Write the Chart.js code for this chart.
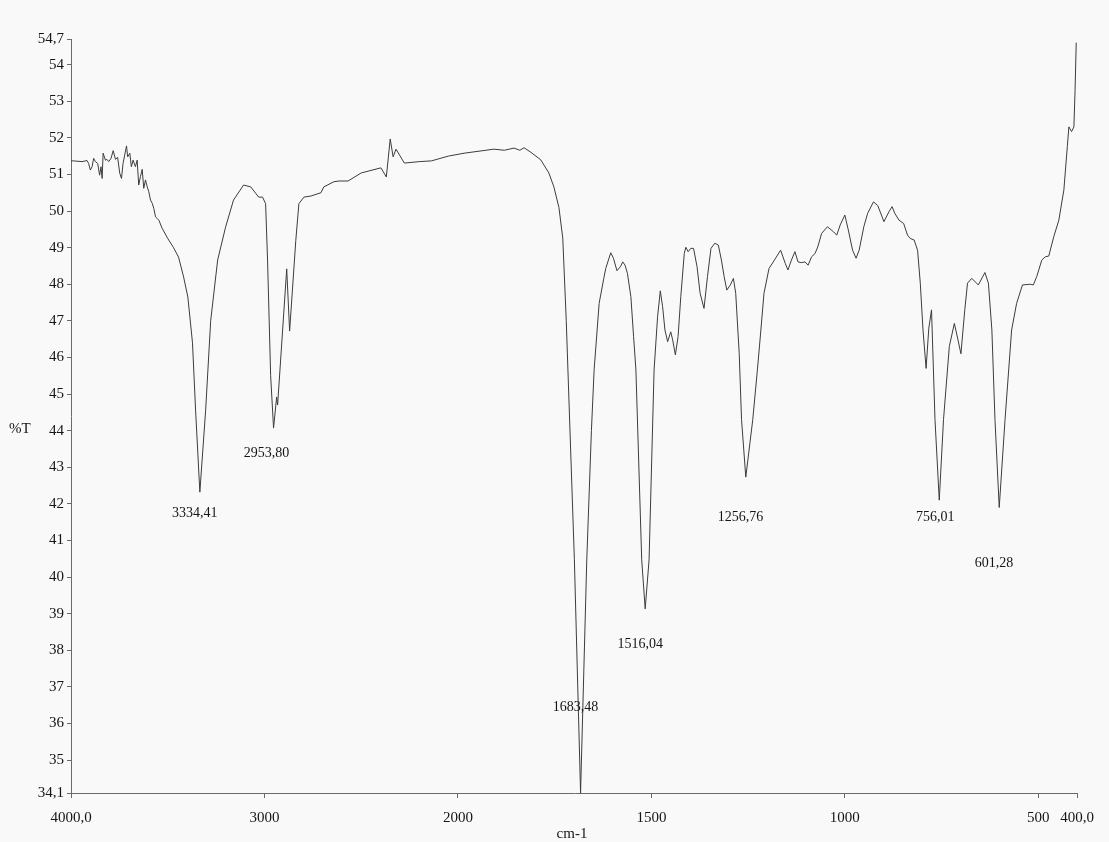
<!DOCTYPE html>
<html>
<head>
<meta charset="utf-8">
<script src="https://cdn.jsdelivr.net/npm/chart.js@4.4.1/dist/chart.umd.min.js"></script>
<style>
  html, body { margin: 0; padding: 0; background: #f9f9f9; }
  canvas { display: block; }
</style>
</head>
<body>
<canvas id="irChart" width="1109" height="842"></canvas>
<script>
// spectrum: wavenumber (cm-1) -> %T
const wavenumbers = [
  4000, 3988, 3943, 3917, 3909, 3900, 3891, 3883, 3874, 3862, 3852, 3845, 3839, 3834,
  3822, 3814, 3805, 3793, 3782, 3770, 3759, 3748, 3739, 3731, 3713, 3707, 3696, 3688,
  3679, 3667, 3658, 3650, 3641, 3632, 3624, 3615, 3606, 3598, 3589, 3580, 3572, 3563,
  3555, 3546, 3529, 3501, 3470, 3444, 3418, 3396, 3372, 3356, 3334, 3304, 3278, 3242,
  3201, 3160, 3108, 3071, 3030, 3010, 2994, 2984, 2968, 2953, 2937, 2932, 2885, 2870,
  2838, 2822, 2796, 2760, 2708, 2693, 2641, 2615, 2568, 2500, 2398, 2370, 2350, 2335,
  2320, 2277, 2200, 2137, 2050, 1984, 1907, 1880, 1855, 1840, 1829, 1811, 1786, 1765,
  1752, 1739, 1729, 1720, 1699, 1683, 1667, 1655, 1648, 1635, 1623, 1618, 1605, 1598,
  1589, 1580, 1574, 1568, 1562, 1553, 1546, 1540, 1525, 1516, 1506, 1493, 1484, 1477,
  1471, 1465, 1458, 1450, 1445, 1438, 1431, 1424, 1415, 1411, 1405, 1398, 1391, 1382,
  1374, 1364, 1355, 1346, 1336, 1327, 1319, 1312, 1305, 1296, 1288, 1282, 1273, 1267,
  1256, 1238, 1226, 1217, 1209, 1196, 1182, 1166, 1154, 1147, 1138, 1129, 1121, 1112,
  1103, 1095, 1086, 1077, 1070, 1060, 1045, 1029, 1021, 1012, 1000, 991, 980, 971,
  963, 951, 941, 926, 915, 899, 886, 878, 871, 860, 848, 838, 831, 821, 812, 805,
  798, 790, 783, 776, 767, 756, 745, 730, 717, 708, 700, 690, 683, 672, 655, 638,
  629, 620, 612, 601, 586, 569, 556, 541, 521, 513, 504, 491, 482, 473, 460, 447,
  434, 425, 421, 414, 408, 405, 402
];
const transmittance = [
  51.37, 51.37, 51.35, 51.38, 51.30, 51.12, 51.21, 51.44, 51.35, 51.30, 50.98, 51.21, 50.89, 51.58,
  51.39, 51.41, 51.35, 51.44, 51.65, 51.41, 51.47, 51.03, 50.89, 51.30, 51.78, 51.48, 51.58, 51.21,
  51.39, 51.21, 51.39, 50.71, 50.94, 51.14, 50.62, 50.85, 50.66, 50.53, 50.30, 50.21, 50.07, 49.84,
  49.80, 49.75, 49.53, 49.26, 49.00, 48.74, 48.20, 47.65, 46.40, 44.56, 42.32, 44.56, 47.00, 48.66,
  49.56, 50.30, 50.71, 50.66, 50.38, 50.38, 50.20, 48.66, 45.50, 44.07, 44.92, 44.70, 48.42, 46.72,
  49.20, 50.20, 50.38, 50.41, 50.50, 50.66, 50.80, 50.82, 50.82, 51.04, 51.18, 50.93, 51.97, 51.48,
  51.69, 51.31, 51.35, 51.37, 51.50, 51.58, 51.69, 51.66, 51.72, 51.66, 51.73, 51.60, 51.40, 51.04,
  50.66, 50.10, 49.26, 47.00, 40.47, 34.10, 40.47, 44.00, 45.66, 47.48, 48.16, 48.43, 48.86, 48.71,
  48.37, 48.48, 48.61, 48.52, 48.30, 47.66, 46.57, 45.66, 40.47, 39.13, 40.47, 45.66, 47.11, 47.82,
  47.39, 46.75, 46.43, 46.70, 46.48, 46.07, 46.57, 47.66, 48.84, 49.01, 48.89, 48.98, 48.98, 48.48,
  47.75, 47.34, 48.21, 48.98, 49.12, 49.07, 48.66, 48.21, 47.84, 47.98, 48.16, 47.75, 46.11, 44.30,
  42.73, 44.30, 45.66, 46.75, 47.75, 48.43, 48.66, 48.93, 48.57, 48.39, 48.66, 48.89, 48.61, 48.59,
  48.61, 48.52, 48.75, 48.84, 49.02, 49.39, 49.57, 49.43, 49.34, 49.62, 49.89, 49.48, 48.93, 48.71,
  48.93, 49.57, 49.94, 50.25, 50.15, 49.71, 49.98, 50.12, 49.94, 49.75, 49.66, 49.34, 49.25, 49.21, 48.93, 48.03,
  46.75, 45.70, 46.80, 47.30, 44.30, 42.10, 44.30, 46.30, 46.93, 46.50, 46.10, 47.30, 48.03, 48.16, 47.98, 48.32,
  48.03, 46.75, 44.30, 41.90, 44.30, 46.75, 47.48, 47.98, 48.00, 47.98, 48.21, 48.66, 48.75, 48.77, 49.30, 49.75,
  50.57, 51.76, 52.30, 52.17, 52.30, 53.30, 54.60
];

// marked peaks
const peakWavenumbers = [3334.41, 2953.80, 1683.48, 1516.04, 1256.76, 756.01, 601.28];
const peakTransmittance = [42.32, 44.07, 34.10, 39.13, 42.73, 42.10, 41.90];

const xTicks = [4000, 3000, 2000, 1500, 1000, 500, 400];
const xTickLabels = ['4000,0', '3000', '2000', '1500', '1000', '500', '400,0'];
const yTicks = [54.7, 54, 53, 52, 51, 50, 49, 48, 47, 46, 45, 44, 43, 42, 41, 40, 39, 38, 37, 36, 35, 34.1];

const serif = '"Liberation Serif", "Times New Roman", serif';
const axisColor = '#6a6a6a';
const textColor = '#151515';

// the printout doubles the scale below 2000 cm-1, so the x axis is split there
class SplitScale extends Chart.LinearScale {
  toUnits(v) {
    const brk = 2000;
    return v >= brk ? (this.max - v) / 2 : (this.max - brk) / 2 + (brk - v);
  }
  getPixelForValue(v) {
    if (v === null || v === undefined || isNaN(v)) return NaN;
    return this.getPixelForDecimal(this.toUnits(v) / this.toUnits(this.min));
  }
  getValueForPixel(p) {
    const u = this.getDecimalForPixel(p) * this.toUnits(this.min);
    const half = (this.max - 2000) / 2;
    return u <= half ? this.max - 2 * u : 2000 - (u - half);
  }
}
SplitScale.id = 'split';
SplitScale.defaults = Chart.LinearScale.defaults;
Chart.register(SplitScale);

// label offsets (px) from each marked peak, as on the printout
const labelOffsets = [[-5, 21], [-7, 25], [-5, -86], [-5, 35], [-5, 40], [-4, 17], [-5, 56]];

const annotations = {
  id: 'annotations',
  afterDatasetsDraw(chart) {
    const { ctx, chartArea } = chart;
    const x = chart.scales.x, y = chart.scales.y;
    ctx.save();
    ctx.fillStyle = textColor;
    ctx.font = '14px ' + serif;
    ctx.textAlign = 'center';
    ctx.textBaseline = 'middle';
    peakWavenumbers.forEach((w, i) => {
      const text = w.toFixed(2).replace('.', ',');
      ctx.fillText(text, x.getPixelForValue(w) + labelOffsets[i][0], y.getPixelForValue(peakTransmittance[i]) + labelOffsets[i][1]);
    });
    ctx.font = '15px ' + serif;
    ctx.textAlign = 'left';
    ctx.fillText('%T', 9, y.getPixelForValue(44) - 2);
    ctx.textAlign = 'center';
    ctx.textBaseline = 'alphabetic';
    ctx.fillText('cm-1', (chartArea.left + chartArea.right) / 2 - 2, 838);
    ctx.restore();
  }
};

new Chart(document.getElementById('irChart'), {
  type: 'line',
  data: {
    datasets: [{
      data: wavenumbers.map((w, i) => ({ x: w, y: transmittance[i] })),
      borderColor: '#3c3c3c',
      borderWidth: 1,
      pointRadius: 0,
      tension: 0,
      fill: false
    }]
  },
  options: {
    responsive: false,
    animation: false,
    devicePixelRatio: 1,
    layout: { padding: { top: 39, right: 32, left: 0, bottom: 0 } },
    plugins: { legend: { display: false }, tooltip: { enabled: false } },
    scales: {
      x: {
        type: 'split',
        min: 400,
        max: 4000,
        afterBuildTicks: (s) => { s.ticks = xTicks.map((v) => ({ value: v })); },
        afterFit: (s) => { s.height = 49; },
        ticks: {
          autoSkip: false,
          maxRotation: 0,
          padding: 11,
          color: textColor,
          font: { family: serif, size: 15 },
          callback: (v, i) => xTickLabels[i]
        },
        grid: { drawOnChartArea: false, drawTicks: true, tickLength: 5, color: axisColor },
        border: { display: true, color: axisColor, width: 1 }
      },
      y: {
        min: 34.1,
        max: 54.7,
        afterBuildTicks: (s) => { s.ticks = yTicks.map((v) => ({ value: v })); },
        afterFit: (s) => { s.width = 71; },
        ticks: {
          autoSkip: false,
          padding: 3,
          color: textColor,
          font: { family: serif, size: 15 },
          callback: (v) => String(v).replace('.', ',')
        },
        grid: { drawOnChartArea: false, drawTicks: true, tickLength: 4, color: axisColor },
        border: { display: true, color: axisColor, width: 1 }
      }
    }
  },
  plugins: [annotations]
});
</script>
</body>
</html>
